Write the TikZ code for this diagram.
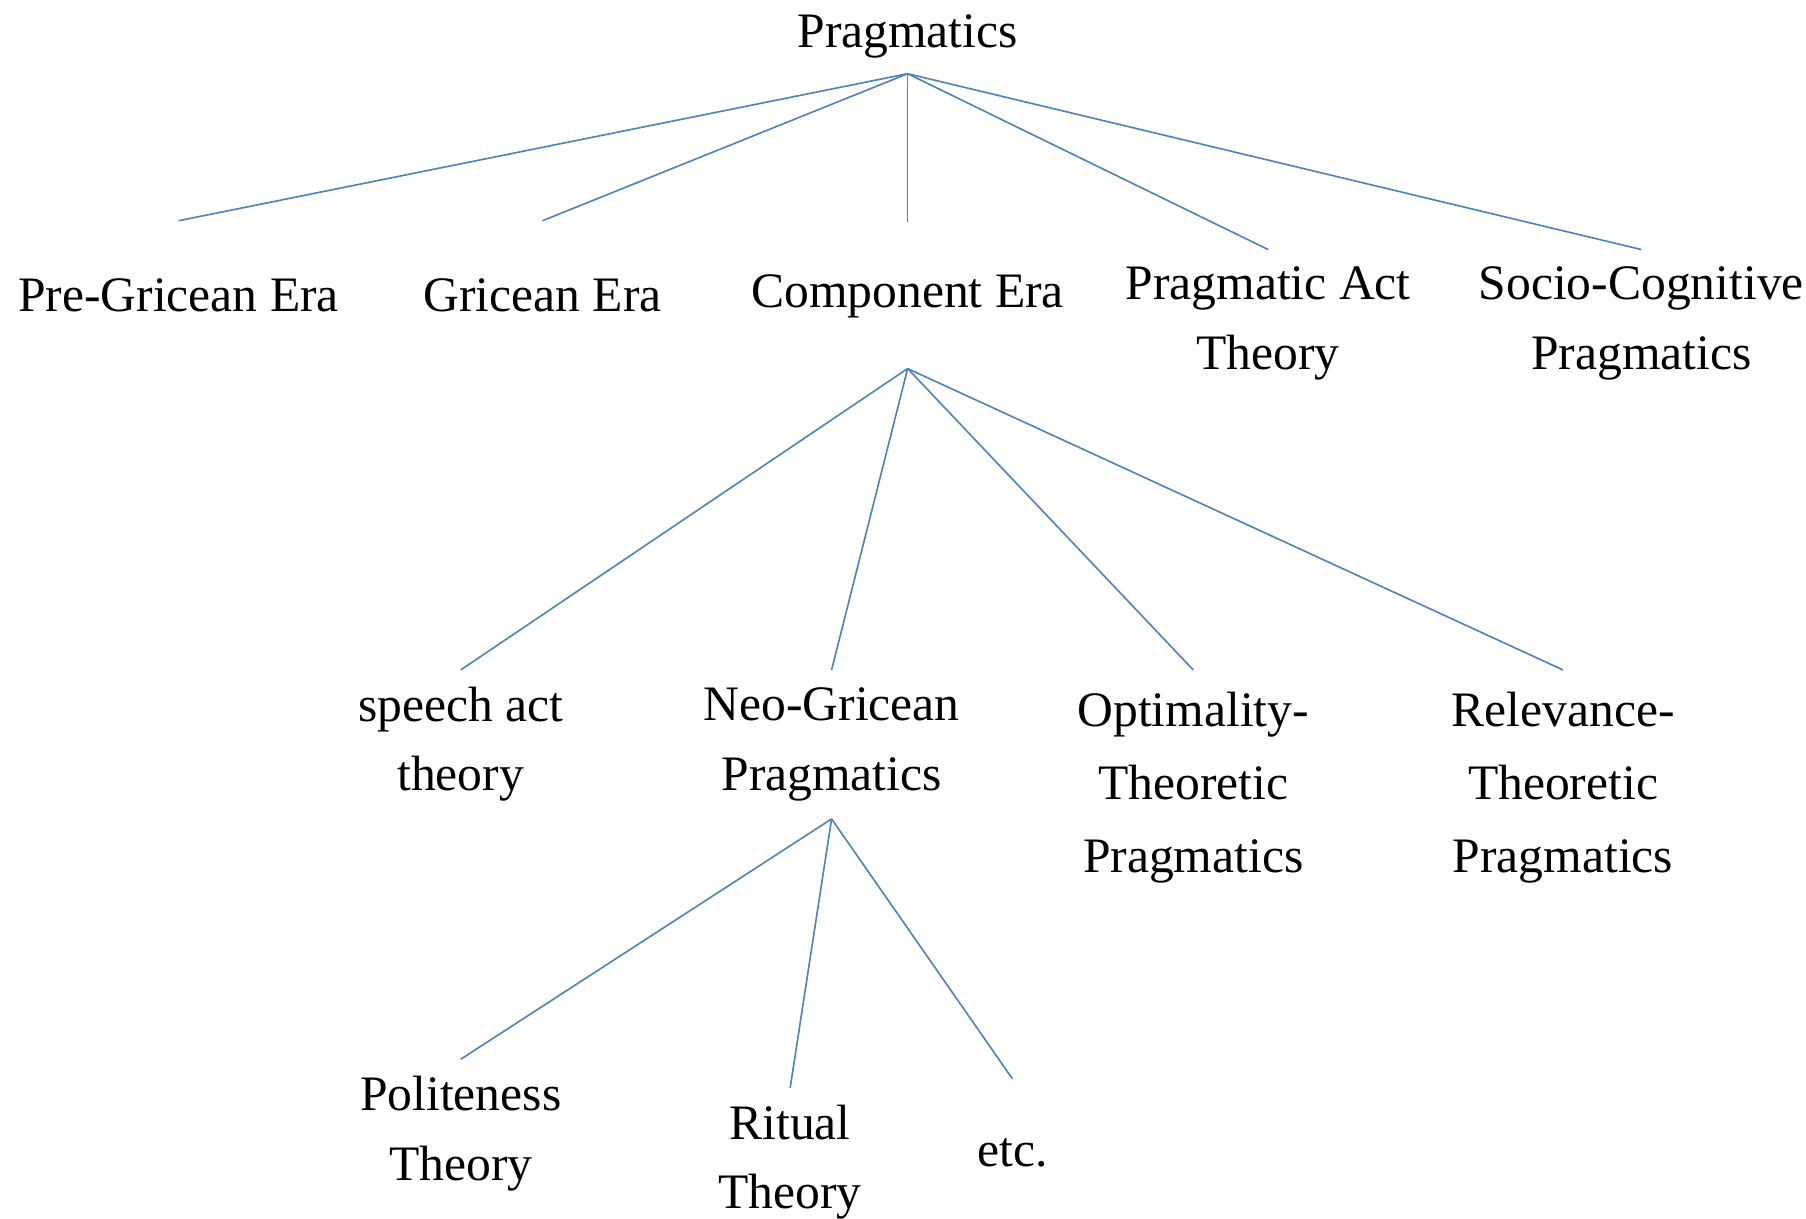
\documentclass[tikz,border=0pt]{standalone}
\usepackage{fontspec}
\setmainfont{Liberation Serif}
\usetikzlibrary{positioning}
\definecolor{branchblue}{RGB}{79,129,189}

\begin{document}
\begin{tikzpicture}[
    term/.style={align=center, inner sep=1pt, minimum height=2.56cm,
                 font=\fontsize{24.5pt}{34.5pt}\selectfont},
    tallterm/.style={term, minimum height=4.08cm,
                 font=\fontsize{24.5pt}{36pt}\selectfont},
    branch/.style={draw=branchblue, line width=0.8pt},
    on grid
  ]
  \useasboundingbox (0,0) rectangle (31.36,-21.16);

  % Root
  \node[term] (prag) at (15.76,-0.64) {Pragmatics};
  \coordinate[below=0.64cm of prag.center] (prag-fork);

  % Eras
  \node[term, below left=4.48cm and 12.66cm of prag] (pre) {Pre-Gricean Era};
  \node[term, below left=4.48cm and 6.34cm of prag] (gric) {Gricean Era};
  \node[term, below=4.50cm of prag] (comp) {Component Era};
  \node[term, below right=4.98cm and 6.26cm of prag] (pact) {Pragmatic Act\\Theory};
  \node[term, below right=4.98cm and 12.74cm of prag] (socio) {Socio-Cognitive\\Pragmatics};
  \coordinate[below=1.26cm of comp.center] (comp-fork);

  % Components
  \node[term, below left=7.78cm and 7.76cm of comp] (speech) {speech act\\theory};
  \node[term, below left=7.78cm and 1.32cm of comp] (neo) {Neo-Gricean\\Pragmatics};
  \node[tallterm, below right=8.54cm and 4.96cm of comp] (opt) {Optimality-\\Theoretic\\Pragmatics};
  \node[tallterm, below right=8.54cm and 11.38cm of comp] (rel) {Relevance-\\Theoretic\\Pragmatics};
  \coordinate[below=1.30cm of neo.center] (neo-fork);

  % Neo-Gricean offshoots
  \node[term, below left=6.76cm and 6.44cm of neo] (pol) {Politeness\\Theory};
  \node[term, below left=7.26cm and 0.72cm of neo] (rit) {Ritual\\Theory};
  \node[term, below right=7.10cm and 3.14cm of neo] (etc) {etc.};

  % Branches
  \draw[branch] (prag-fork) -- (pre.north);
  \draw[branch] (prag-fork) -- (gric.north);
  \draw[branch] (prag-fork) -- (comp.north);
  \draw[branch] (prag-fork) -- (pact.north);
  \draw[branch] (prag-fork) -- (socio.north);
  \draw[branch] (comp-fork) -- (speech.north);
  \draw[branch] (comp-fork) -- (neo.north);
  \draw[branch] (comp-fork) -- (opt.north);
  \draw[branch] (comp-fork) -- (rel.north);
  \draw[branch] (neo-fork) -- (pol.north);
  \draw[branch] (neo-fork) -- (rit.north);
  \draw[branch] (neo-fork) -- (etc.north);
\end{tikzpicture}
\end{document}
